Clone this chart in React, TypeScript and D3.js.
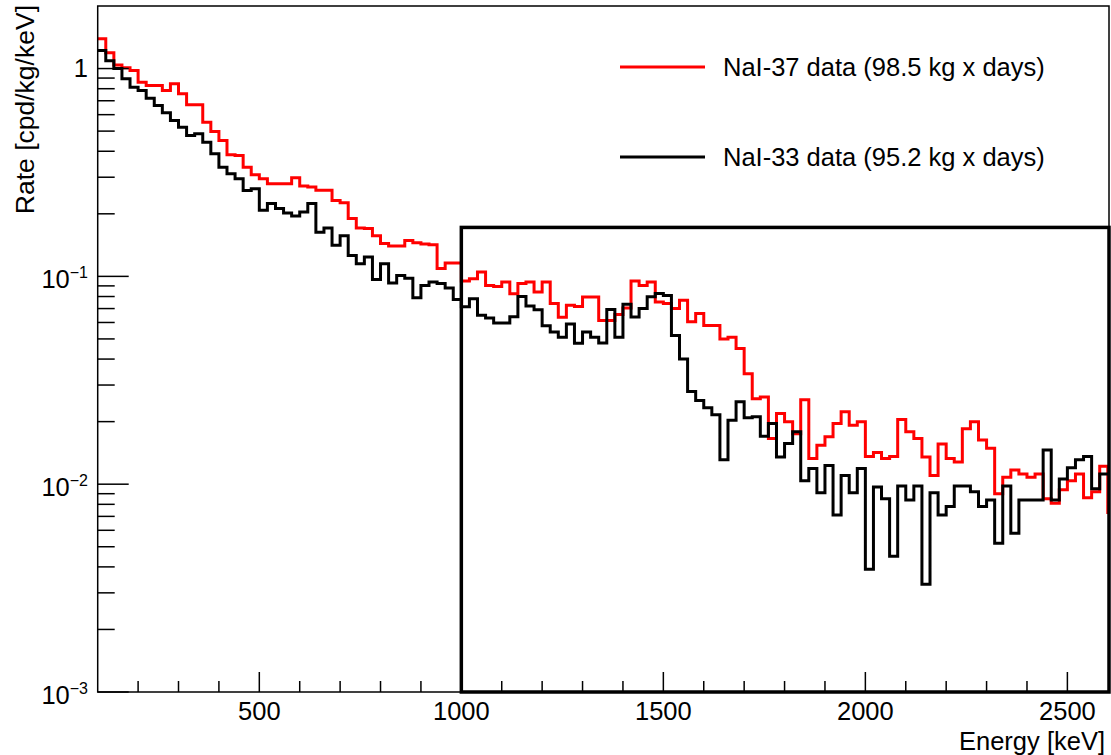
import React from "react";
import * as d3 from "d3";

// bins: 20 keV wide, starting at 100 keV
const binStart = 100;
const binWidth = 20;

// NaI-37 (red), cpd/kg/keV
const nai37 = [
  1.39, 1.19, 1.04, 1.01, 0.978, 0.859, 0.829, 0.829, 0.784, 0.844,
  0.756, 0.669, 0.669, 0.552, 0.498, 0.451, 0.385, 0.382, 0.335, 0.308,
  0.295, 0.279, 0.279, 0.279, 0.298, 0.272, 0.269, 0.26, 0.26, 0.232,
  0.226, 0.19, 0.171, 0.17, 0.157, 0.144, 0.14, 0.14, 0.149, 0.145,
  0.143, 0.142, 0.109, 0.116, 0.116, 0.095, 0.0975, 0.105, 0.0905, 0.0895,
  0.094, 0.0825, 0.0925, 0.094, 0.084, 0.094, 0.074, 0.0635, 0.0726, 0.0717,
  0.0795, 0.0795, 0.0614, 0.0614, 0.0655, 0.0705, 0.095, 0.0905, 0.094, 0.0753,
  0.074, 0.07, 0.0767, 0.0605, 0.0662, 0.058, 0.058, 0.05, 0.051, 0.045,
  0.034, 0.0258, 0.0263, 0.0166, 0.0219, 0.02, 0.0175, 0.0255, 0.0133, 0.0154,
  0.0169, 0.0196, 0.0223, 0.0192, 0.02, 0.0136, 0.0142, 0.0133, 0.0136, 0.0205,
  0.0179, 0.0166, 0.0135, 0.011, 0.0156, 0.0133, 0.0128, 0.0185, 0.02, 0.0163,
  0.0149, 0.009, 0.0108, 0.0117, 0.0112, 0.0108, 0.0112, 0.0085, 0.0081, 0.0094,
  0.0104, 0.0112, 0.0086, 0.0092, 0.0122, 0.0073,
];

// NaI-33 (black), cpd/kg/keV
const nai33 = [
  1.22, 1.09, 1.0, 0.892, 0.813, 0.784, 0.72, 0.664, 0.612, 0.562,
  0.522, 0.476, 0.485, 0.442, 0.389, 0.335, 0.312, 0.295, 0.259, 0.264,
  0.208, 0.224, 0.212, 0.202, 0.195, 0.204, 0.224, 0.163, 0.171, 0.141,
  0.157, 0.126, 0.115, 0.124, 0.0965, 0.115, 0.093, 0.101, 0.098, 0.079,
  0.0905, 0.094, 0.0925, 0.088, 0.0773, 0.0714, 0.078, 0.065, 0.063, 0.0596,
  0.0596, 0.064, 0.08, 0.072, 0.069, 0.0578, 0.054, 0.051, 0.059, 0.0476,
  0.054, 0.051, 0.0478, 0.0692, 0.051, 0.0735, 0.0637, 0.07, 0.0798, 0.0828,
  0.081, 0.052, 0.04, 0.0279, 0.0253, 0.0233, 0.0216, 0.0131, 0.0203, 0.0249,
  0.0209, 0.0211, 0.017, 0.0196, 0.0135, 0.0157, 0.0179, 0.0104, 0.0119, 0.0091,
  0.0123, 0.0071, 0.011, 0.0091, 0.0119, 0.0039, 0.0097, 0.0085, 0.0045, 0.0098,
  0.0084, 0.0098, 0.0033, 0.0091, 0.0071, 0.0078, 0.0098, 0.0098, 0.0092, 0.0078,
  0.0084, 0.0052, 0.0098, 0.0058, 0.0084, 0.0084, 0.0084, 0.0146, 0.0084, 0.0106,
  0.012, 0.0131, 0.0136, 0.0095, 0.0112, 0.0112,
];

const legendLabels = ["NaI-37 data (98.5 kg x days)", "NaI-33 data (95.2 kg x days)"];
const seriesColors = ["#ff0000", "#000000"];
const xMajorTicks = [500, 1000, 1500, 2000, 2500];
const yMajorTicks = [1e-3, 1e-2, 1e-1, 1];

// region box drawn on top of the plot
const roiBox = { e0: 1000, e1: 2603, r0: 1e-3, r1: 0.172 };

const W = 1111;
const H = 755;
const left = 97.7, right = 1109, top = 6, bottom = 692;
const font = "'Liberation Sans', Arial, Helvetica, sans-serif";

export default function App() {
  const x = d3.scaleLinear().domain([100, 2603]).range([left, right]);
  const y = d3.scaleLog().domain([1e-3, 2]).range([bottom, top]);

  const histPath = (vals: number[]) => {
    const pts: [number, number][] = vals.map((v, i) => [binStart + i * binWidth, v]);
    pts.push([binStart + vals.length * binWidth, vals[vals.length - 1]]);
    return d3
      .line<[number, number]>()
      .x((d) => x(d[0]))
      .y((d) => y(d[1]))
      .curve(d3.curveStepAfter)(pts) as string;
  };

  const xMinor = d3.range(200, 2600, 100).filter((v) => v % 500 !== 0);
  const yMinor: number[] = [];
  for (const dec of [1e-3, 1e-2, 1e-1, 1]) {
    for (let m = 2; m <= 9; m++) {
      const v = m * dec;
      if (v < 2) yMinor.push(v);
    }
  }

  const expOf = (v: number) => Math.round(Math.log10(v));

  return (
    <svg
      width={W}
      height={H}
      style={{ position: "absolute", left: 0, top: 0, background: "#fff" }}
      fontFamily={font}
    >
      <defs>
        <clipPath id="plot">
          <rect x={left} y={top} width={right - left} height={bottom - top} />
        </clipPath>
      </defs>

      {/* histograms */}
      <g clipPath="url(#plot)" fill="none" strokeWidth={3} strokeLinejoin="miter">
        <path d={histPath(nai37)} stroke={seriesColors[0]} />
        <path d={histPath(nai33)} stroke={seriesColors[1]} />
      </g>

      {/* frame */}
      <rect x={left} y={top} width={right - left} height={bottom - top} fill="none" stroke="#000" strokeWidth={1.5} />

      {/* ticks */}
      <g stroke="#000" strokeWidth={1.5}>
        {xMajorTicks.map((t) => (
          <line key={"xM" + t} x1={x(t)} x2={x(t)} y1={bottom} y2={bottom - 20} />
        ))}
        {xMinor.map((t) => (
          <line key={"xm" + t} x1={x(t)} x2={x(t)} y1={bottom} y2={bottom - 11} />
        ))}
        {yMajorTicks.map((t) => (
          <line key={"yM" + t} x1={left} x2={left + 31} y1={y(t)} y2={y(t)} />
        ))}
        {yMinor.map((t) => (
          <line key={"ym" + t} x1={left} x2={left + 17} y1={y(t)} y2={y(t)} />
        ))}
      </g>

      {/* tick labels */}
      <g fontSize={25.5} fill="#000">
        {xMajorTicks.map((t) => (
          <text key={"xl" + t} x={x(t)} y={720} textAnchor="middle">
            {t}
          </text>
        ))}
        {yMajorTicks.map((t) =>
          t === 1 ? (
            <text key={"yl" + t} x={88} y={y(t) + 8.5} textAnchor="end">
              1
            </text>
          ) : (
            <text key={"yl" + t} x={88} y={y(t) + 12} textAnchor="end">
              10
              <tspan fontSize={16} dy={-10}>
                {"\u2212" + -expOf(t)}
              </tspan>
            </text>
          )
        )}
      </g>

      {/* axis titles */}
      <text x={1105} y={749.5} textAnchor="end" fontSize={25.5}>
        Energy [keV]
      </text>
      <text transform="translate(34,5) rotate(-90)" textAnchor="end" fontSize={26.5}>
        Rate [cpd/kg/keV]
      </text>

      {/* region box */}
      <rect
        x={x(roiBox.e0)}
        y={y(roiBox.r1)}
        width={x(roiBox.e1) - x(roiBox.e0)}
        height={y(roiBox.r0) - y(roiBox.r1)}
        fill="none"
        stroke="#000"
        strokeWidth={3.5}
      />

      {/* legend */}
      {legendLabels.map((lab, i) => (
        <g key={lab} transform={`translate(0,${67 + i * 90})`}>
          <line x1={620} x2={705} y1={0} y2={0} stroke={seriesColors[i]} strokeWidth={3} />
          <text x={723} y={8.5} fontSize={25.5}>
            {lab}
          </text>
        </g>
      ))}
    </svg>
  );
}
